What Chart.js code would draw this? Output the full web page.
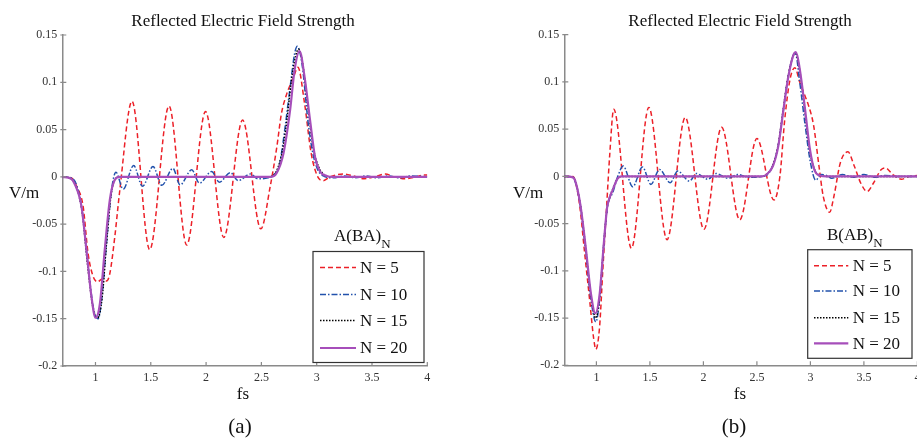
<!DOCTYPE html>
<html>
<head>
    <title>Reflected Electric Field Strength</title>
    <meta charset="utf-8">
    <script src="https://cdn.jsdelivr.net/npm/chart.js@4.4.0/dist/chart.umd.min.js"></script>
    <style>
        html, body {
            margin: 0;
            padding: 0;
            width: 917px;
            height: 441px;
            overflow: hidden;
            background: #fff;
        }
        body {
            position: relative;
            font-family: "Liberation Serif", "Times New Roman", serif;
            color: #111;
        }
        canvas {
            position: absolute;
            top: 0;
        }
        .lbl {
            position: absolute;
            white-space: nowrap;
            line-height: 1;
            transform: translate(-50%, -50%);
        }
        .ltitle {
            position: absolute;
            white-space: nowrap;
            font-size: 17px;
            line-height: 1;
        }
        .ltitle sub {
            font-size: 13px;
            vertical-align: -7px;
        }
    </style>
</head>
<body>
    <canvas id="chart-a" width="460" height="441" style="left:0"></canvas>
    <canvas id="chart-b" width="480" height="441" style="left:460px"></canvas>

    <div class="lbl" style="left:243px; top:20px; font-size:17px">Reflected Electric Field Strength</div>
    <div class="lbl" style="left:740px; top:20px; font-size:17px">Reflected Electric Field Strength</div>
    <div class="lbl" style="left:24px; top:192px; font-size:17px">V/m</div>
    <div class="lbl" style="left:528px; top:192px; font-size:17px">V/m</div>
    <div class="lbl" style="left:243px; top:393px; font-size:17px">fs</div>
    <div class="lbl" style="left:740px; top:393px; font-size:17px">fs</div>
    <div class="lbl" style="left:240px; top:426px; font-size:21px">(a)</div>
    <div class="lbl" style="left:734px; top:426px; font-size:21px">(b)</div>
    <div class="ltitle" style="left:334px; top:227px">A(BA)<sub>N</sub></div>
    <div class="ltitle" style="left:827px; top:226px">B(AB)<sub>N</sub></div>

    <script>
        // Ejes
        const xTicks = [1, 1.5, 2, 2.5, 3, 3.5, 4];
        const xTickLabels = ['1', '1.5', '2', '2.5', '3', '3.5', '4'];
        const yTicks = [0.15, 0.1, 0.05, 0, -0.05, -0.1, -0.15, -0.2];
        const yTickLabels = ['0.15', '0.1', '0.05', '0', '-0.05', '-0.1', '-0.15', '-0.2'];
        const legendLabels = ['N = 5', 'N = 10', 'N = 15', 'N = 20'];

        // Panel (a): A(BA)N  -- puntos [fs, V/m]
        const aN5 = [[0.7,0],[0.78,-0.001],[0.83,-0.01],[0.888,-0.031],[0.933,-0.081],[0.978,-0.105],[1.02,-0.111],[1.06,-0.108],[1.1,-0.11],[1.13,-0.102],[1.175,-0.063],[1.22,-0.014],[1.33,0.08],
            [1.49,-0.077],[1.665,0.075],[1.825,-0.072],[1.995,0.069],[2.16,-0.064],[2.33,0.06],[2.495,-0.055],
            [2.58,-0.01],[2.64,0.032],[2.68,0.066],[2.73,0.088],[2.79,0.105],[2.83,0.116],[2.89,0.078],[2.95,0.025],[3.01,0],[3.06,-0.004],
            [3.12,0],[3.24,0.003],[3.33,0.001],[3.43,-0.002],[3.52,0],[3.62,0.003],[3.7,0],[3.8,-0.002],[3.9,0],[3.97,0.002],[4,0.002]];
        const aN10 = [[0.7,0],[0.78,-0.001],[0.83,-0.009],[0.88,-0.036],[0.93,-0.09],[0.98,-0.138],[1.025,-0.15],[1.06,-0.125],[1.1,-0.07],[1.145,-0.014],[1.185,0.005],
            [1.25,-0.013],[1.345,0.012],[1.425,-0.01],[1.52,0.011],[1.6,-0.009],[1.7,0.009],[1.765,-0.0085],[1.87,0.0074],[1.94,-0.0067],
            [2.05,0.0056],[2.12,-0.0056],[2.22,0.0045],[2.29,-0.004],[2.4,0.003],[2.47,-0.002],[2.56,-0.001],[2.61,0.002],
            [2.66,0.011],[2.7,0.04],[2.76,0.095],[2.8,0.13],[2.825,0.138],[2.87,0.117],[2.92,0.06],[2.965,0.025],[3.01,0.0074],[3.06,0.001],
            [3.15,-0.001],[3.25,0.001],[3.35,-0.001],[3.45,0.001],[3.55,-0.001],[3.65,0.001],[3.75,-0.001],[3.85,0.001],[4,0]];
        const aN15 = [[0.7,0],[0.78,-0.002],[0.83,-0.012],[0.88,-0.038],[0.93,-0.095],[0.98,-0.14],[1.02,-0.149],[1.06,-0.128],[1.1,-0.07],[1.14,-0.02],[1.18,-0.002],[1.22,0],
            [2.56,0],[2.62,0.003],[2.68,0.022],[2.72,0.05],[2.77,0.1],[2.81,0.128],[2.835,0.135],[2.87,0.122],[2.92,0.075],[2.97,0.03],[3.02,0.01],[3.07,0.002],[3.12,0],[4,0]];
        const aN20 = [[0.7,0],[0.78,-0.002],[0.81,-0.007],[0.873,-0.031],[0.918,-0.077],[0.964,-0.127],[1,-0.149],[1.04,-0.134],[1.084,-0.077],[1.13,-0.024],[1.175,-0.003],[1.22,0],
            [2.58,0],[2.637,0.004],[2.7,0.025],[2.76,0.071],[2.8,0.113],[2.845,0.133],[2.89,0.106],[2.94,0.06],[2.985,0.021],[3.03,0.0056],[3.09,0.001],[3.15,0],[4,0]];

        // Panel (b): B(AB)N
        const bN5 = [[0.7,0],[0.78,0],[0.8,-0.004],[0.844,-0.031],[0.89,-0.081],[0.937,-0.131],[0.975,-0.172],[0.995,-0.183],[1.03,-0.159],[1.06,-0.099],[1.094,-0.035],[1.124,0.022],[1.162,0.071],
            [1.327,-0.076],[1.49,0.073],[1.66,-0.067],[1.83,0.0624],[2.005,-0.056],[2.17,0.052],[2.34,-0.046],[2.5,0.04],[2.66,-0.025],
            [2.715,0],[2.76,0.06],[2.81,0.103],[2.855,0.115],[2.9,0.1],[2.95,0.085],[2.98,0.076],[3.03,0.054],[3.08,0.011],[3.12,-0.021],[3.18,-0.038],
            [3.22,-0.021],[3.28,0.0145],[3.35,0.026],[3.41,0.011],[3.47,-0.007],[3.53,-0.016],[3.59,-0.007],[3.66,0.007],[3.7,0.009],[3.77,0.002],[3.85,-0.003],[3.93,0],[4,0.001]];
        const bN10 = [[0.7,0],[0.78,-0.001],[0.8,-0.005],[0.85,-0.031],[0.9,-0.079],[0.95,-0.131],[0.995,-0.154],[1.03,-0.13],[1.07,-0.07],[1.1,-0.035],[1.12,-0.024],[1.15,-0.018],[1.2,0],
            [1.25,0.011],[1.34,-0.011],[1.43,0.01],[1.51,-0.0085],[1.59,0.0074],[1.69,-0.0067],[1.76,0.0056],[1.87,-0.005],[1.935,0.003],
            [2.04,-0.003],[2.12,0.003],[2.23,-0.002],[2.32,0.002],[2.42,-0.001],[2.55,0],[2.6,0.002],[2.65,0.012],[2.7,0.033],[2.745,0.068],[2.79,0.104],
            [2.84,0.128],[2.86,0.13],[2.9,0.1],[2.95,0.055],[3,0.015],[3.05,-0.004],[3.1,0.002],[3.15,0.001],[3.2,-0.002],[3.3,0.002],[3.4,-0.001],
            [3.5,0.002],[3.6,-0.001],[3.7,0.001],[3.8,0],[4,0]];
        const bN15 = [[0.7,0],[0.78,-0.001],[0.8,-0.004],[0.85,-0.03],[0.9,-0.076],[0.95,-0.128],[0.995,-0.15],[1.03,-0.128],[1.07,-0.07],[1.1,-0.034],[1.125,-0.022],[1.15,-0.014],[1.2,-0.002],[1.24,0],
            [2.55,0],[2.59,0.002],[2.65,0.012],[2.7,0.034],[2.745,0.07],[2.79,0.105],[2.84,0.128],[2.86,0.131],[2.9,0.112],[2.95,0.068],[2.99,0.03],[3.04,0.007],[3.09,0.001],[3.15,0],[4,0]];
        const bN20 = [[0.7,0],[0.78,-0.001],[0.8,-0.004],[0.85,-0.03],[0.9,-0.075],[0.95,-0.125],[0.99,-0.145],[1.03,-0.125],[1.07,-0.07],[1.1,-0.033],[1.125,-0.022],[1.15,-0.015],[1.2,-0.002],[1.24,0],
            [2.55,0],[2.59,0.002],[2.65,0.011],[2.7,0.032],[2.745,0.068],[2.79,0.103],[2.84,0.128],[2.865,0.1316],[2.9,0.114],[2.95,0.071],[2.995,0.029],[3.04,0.006],[3.09,0.001],[3.15,0],[4,0]];

        const SERIF = '"Liberation Serif", "Times New Roman", serif';
        const AXIS_COLOR = '#8a8a8a';

        const estilos = [
            {color: 'rgb(236,32,40)', width: 1.5, dash: [5, 3], order: 4},
            {color: 'rgb(34,82,172)', width: 1.5, dash: [6, 2, 1.5, 2], order: 3},
            {color: '#000000', width: 1.5, dash: [1.5, 1.5], order: 2},
            {color: 'rgb(166,78,186)', width: 2.2, dash: [], order: 1}
        ];

        function makeDatasets(series) {
            return series.map((pts, i) => ({
                label: legendLabels[i],
                data: pts,
                borderColor: estilos[i].color,
                borderWidth: estilos[i].width,
                borderDash: estilos[i].dash,
                order: estilos[i].order,
                pointRadius: 0,
                fill: false,
                cubicInterpolationMode: 'monotone'
            }));
        }

        // ticks hacia adentro y leyenda dentro del area
        const innerTicks = {
            id: 'innerTicks',
            afterDraw(chart) {
                const ctx = chart.ctx;
                const x = chart.scales.x, y = chart.scales.y;
                const a = chart.chartArea;
                ctx.save();
                ctx.strokeStyle = AXIS_COLOR;
                ctx.lineWidth = 1.2;
                ctx.beginPath();
                yTicks.forEach(v => {
                    const py = y.getPixelForValue(v);
                    ctx.moveTo(a.left - 2, py);
                    ctx.lineTo(a.left + 4, py);
                });
                xTicks.forEach(v => {
                    const px = x.getPixelForValue(v);
                    ctx.moveTo(px, a.bottom);
                    ctx.lineTo(px, a.bottom - 4);
                });
                ctx.stroke();
                ctx.restore();
            }
        };

        const boxLegend = {
            id: 'boxLegend',
            afterDraw(chart, args, opts) {
                const ctx = chart.ctx;
                ctx.save();
                ctx.fillStyle = '#fff';
                ctx.fillRect(opts.x, opts.y, opts.w, opts.h);
                ctx.strokeStyle = '#333';
                ctx.lineWidth = 1.2;
                ctx.strokeRect(opts.x, opts.y, opts.w, opts.h);
                chart.data.datasets.forEach((ds, i) => {
                    const ry = opts.rows[i];
                    ctx.beginPath();
                    ctx.strokeStyle = ds.borderColor;
                    ctx.lineWidth = ds.borderWidth;
                    ctx.setLineDash(ds.borderDash);
                    ctx.moveTo(opts.x + opts.s0, ry);
                    ctx.lineTo(opts.x + opts.s1, ry);
                    ctx.stroke();
                    ctx.setLineDash([]);
                    ctx.fillStyle = '#111';
                    ctx.font = '17px ' + SERIF;
                    ctx.textBaseline = 'middle';
                    ctx.fillText(ds.label, opts.x + opts.tx, ry + 1);
                });
                ctx.restore();
            }
        };

        function makeChart(id, series, geo, legend) {
            const ctx = document.getElementById(id).getContext('2d');
            return new Chart(ctx, {
                type: 'line',
                data: {datasets: makeDatasets(series)},
                options: {
                    responsive: false,
                    animation: false,
                    events: [],
                    layout: {padding: {left: 0, top: geo.top, right: geo.right, bottom: geo.bottom}},
                    plugins: {
                        legend: {display: false},
                        title: {display: false},
                        tooltip: {enabled: false},
                        boxLegend: legend
                    },
                    scales: {
                        x: {
                            type: 'linear',
                            min: 0.7,
                            max: 4,
                            afterFit: s => { s.height = 20; },
                            afterBuildTicks: s => { s.ticks = xTicks.map(v => ({value: v})); },
                            grid: {display: false, drawTicks: false},
                            border: {display: true, color: AXIS_COLOR, width: 1.5},
                            ticks: {
                                padding: 5,
                                maxRotation: 0,
                                autoSkip: false,
                                color: '#333',
                                font: {family: SERIF, size: 12},
                                callback: (v, i) => xTickLabels[i]
                            }
                        },
                        y: {
                            type: 'linear',
                            min: -0.2,
                            max: 0.15,
                            afterFit: s => { s.width = geo.left; },
                            afterBuildTicks: s => { s.ticks = yTicks.map(v => ({value: v})); },
                            grid: {display: false, drawTicks: false},
                            border: {display: true, color: AXIS_COLOR, width: 1.5},
                            ticks: {
                                padding: 5,
                                autoSkip: false,
                                color: '#333',
                                font: {family: SERIF, size: 12},
                                callback: (v, i) => yTickLabels[i]
                            }
                        }
                    }
                },
                plugins: [innerTicks, boxLegend]
            });
        }

        makeChart('chart-a', [aN5, aN10, aN15, aN20],
            {left: 62.3, top: 35, right: 32.7, bottom: 55},
            {x: 313, y: 251.5, w: 111, h: 111, rows: [267.5, 294.5, 320.5, 348], s0: 7, s1: 43, tx: 47});

        makeChart('chart-b', [bN5, bN10, bN15, bN20],
            {left: 104.3, top: 34.7, right: 22.6, bottom: 55.7},
            {x: 347.7, y: 249.7, w: 104.3, h: 108.6, rows: [265.7, 291, 317.7, 343.3], s0: 6.3, s1: 40.6, tx: 45});
    </script>
</body>
</html>
